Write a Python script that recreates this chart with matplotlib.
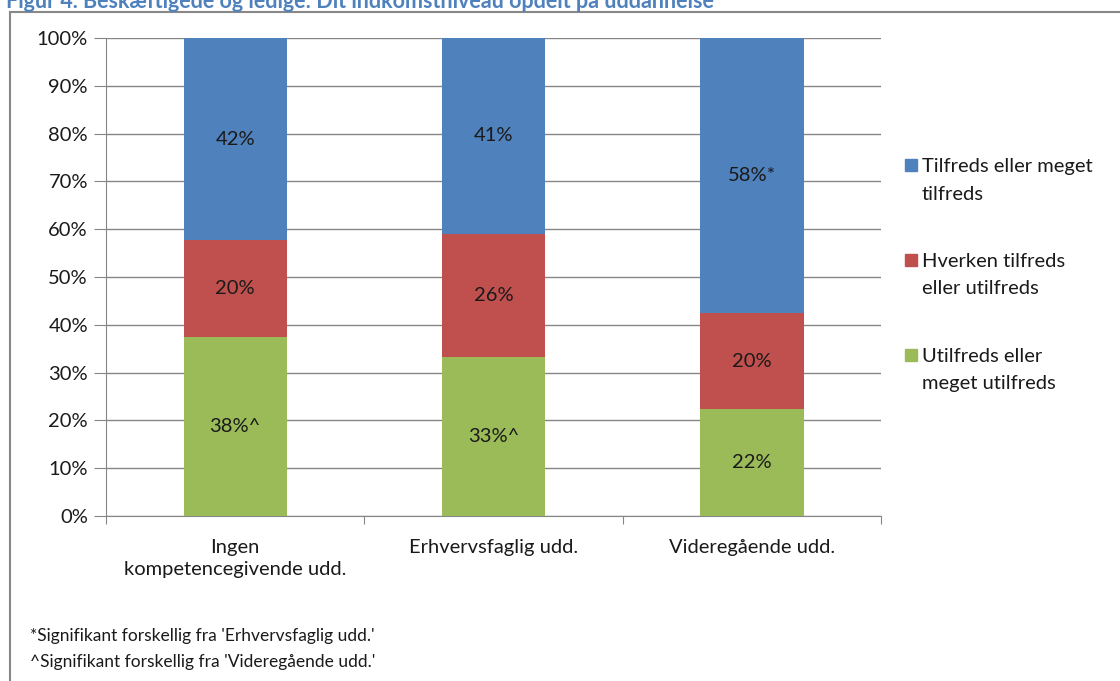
import matplotlib.pyplot as plt
import matplotlib.patches as mpatches
import numpy as np

plt.rcParams['font.family'] = ['Lato', 'DejaVu Sans']

# data
categories = ['Ingen\nkompetencegivende udd.', 'Erhvervsfaglig udd.', 'Videregående udd.']
series_names = ['Tilfreds eller meget\ntilfreds', 'Hverken tilfreds\neller utilfreds',
                'Utilfreds eller\nmeget utilfreds']
utilfreds = [37.5, 33.2, 22.3]
hverken = [20.2, 25.8, 20.1]
tilfreds = [42.3, 41.0, 57.6]
utilfreds_lbl = ['38%^', '33%^', '22%']
hverken_lbl = ['20%', '26%', '20%']
tilfreds_lbl = ['42%', '41%', '58%*']
yticks = [0, 10, 20, 30, 40, 50, 60, 70, 80, 90, 100]
notes = ["*Signifikant forskellig fra 'Erhvervsfaglig udd.'",
         "^Signifikant forskellig fra 'Videregående udd.'"]
title = 'Figur 4. Beskæftigede og ledige: Dit indkomstniveau opdelt på uddannelse'

blue = '#4F81BD'
red = '#C0504D'
green = '#9BBB59'
txt = '#1a1a1a'
colors = [blue, red, green]

fig = plt.figure(figsize=(11.2, 6.81), dpi=100)
W, H = 1120, 681
ax = fig.add_axes([106 / W, 1 - 516 / H, 775 / W, 478 / H])

x = np.arange(len(categories))
width = 0.40
ax.bar(x, utilfreds, width, color=green, zorder=3)
ax.bar(x, hverken, width, bottom=utilfreds, color=red, zorder=3)
bottom2 = np.array(utilfreds) + np.array(hverken)
ax.bar(x, tilfreds, width, bottom=bottom2, color=blue, zorder=3)

for i in range(len(x)):
    ax.text(x[i], utilfreds[i] / 2, utilfreds_lbl[i], ha='center', va='center',
            fontsize=14.5, color=txt, zorder=4)
    ax.text(x[i], utilfreds[i] + hverken[i] / 2, hverken_lbl[i], ha='center',
            va='center', fontsize=14.5, color=txt, zorder=4)
    ax.text(x[i], bottom2[i] + tilfreds[i] / 2, tilfreds_lbl[i], ha='center',
            va='center', fontsize=14.5, color=txt, zorder=4)

ax.set_xlim(-0.5, 2.5)
ax.set_ylim(0, 100)
ax.set_yticks(yticks)
ax.set_yticklabels([f'{t}%' for t in yticks], fontsize=14.5, color=txt)
ax.yaxis.grid(True, color='#868686', linewidth=1, zorder=0)
ax.tick_params(axis='y', length=9, color='#868686', pad=4, direction='out')

ax.set_xticks([-0.5, 0.5, 1.5, 2.5])
ax.set_xticklabels([])
ax.tick_params(axis='x', length=6, color='#868686', direction='out')
for i, c in enumerate(categories):
    ax.text(x[i], -4.8, c, ha='center', va='top', fontsize=14.5, color=txt,
            linespacing=1.35)

for s in ['top', 'right']:
    ax.spines[s].set_visible(False)
ax.spines['left'].set_color('#868686')
ax.spines['bottom'].set_color('#868686')

# legend, placed by hand to match the spacing of the original
for k, name in enumerate(series_names):
    y0 = 165 + 95 * k
    fig.patches.append(mpatches.Rectangle((905 / W, 1 - (y0 + 6) / H), 12 / W, 12 / H,
                                          color=colors[k], transform=fig.transFigure))
    fig.text(922 / W, 1 - (y0 - 7) / H, name, fontsize=14.5, va='top', ha='left',
             color=txt, linespacing=1.75)

# footnotes
fig.text(30 / W, 1 - 636 / H, notes[0], fontsize=12.5, va='center', color=txt)
fig.text(30 / W, 1 - 662 / H, notes[1], fontsize=12.5, va='center', color=txt)

# frame and title (cut by the top edge, as in the original)
fig.add_artist(plt.Line2D([10 / W, 10 / W], [0, 1 - 12 / H], color='#888888',
                          linewidth=1.5, transform=fig.transFigure))
fig.add_artist(plt.Line2D([10 / W, 1], [1 - 12 / H, 1 - 12 / H], color='#888888',
                          linewidth=1.5, transform=fig.transFigure))
fig.text(6 / W, 1 - 1 / H, title, fontsize=15.5, fontweight='bold', color='#4F81BD',
         va='center', ha='left')

fig.savefig('out.png', dpi=100)
